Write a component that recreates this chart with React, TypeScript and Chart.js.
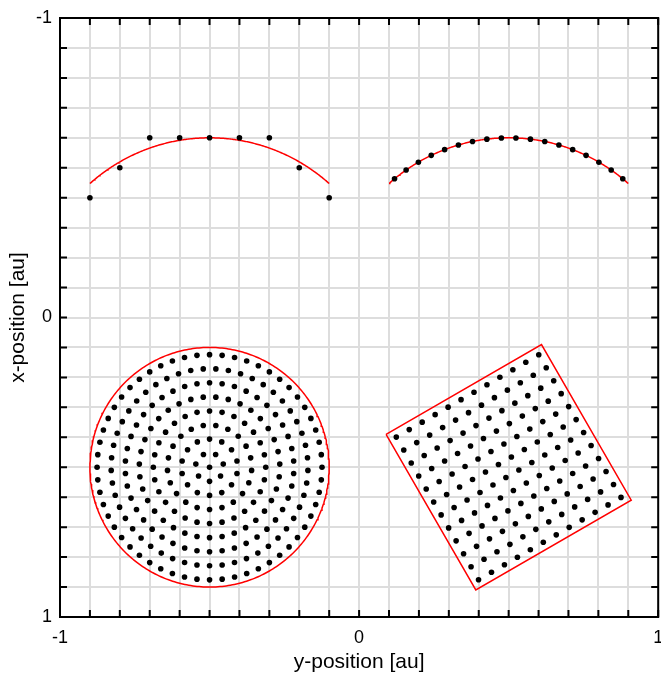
import React, { useEffect, useRef } from "react";
import { Chart, registerables } from "chart.js";

Chart.register(...registerables);

// ---- Axes ----
const AXIS_MIN = -1;
const AXIS_MAX = 1;
const GRID_STEP = 0.1;
const LABELED_TICKS = [-1, 0, 1];
const X_TITLE = "y-position [au]";
const Y_TITLE = "x-position [au]";

// ---- Top-left: arc sampled on a coarse 0.1 grid (chart x = y-position, chart y = x-position) ----
const coarseArcH = [-0.9, -0.8, -0.7, -0.6, -0.5, -0.4, -0.3, -0.2, -0.1];
const coarseArcV = [-0.4, -0.5, -0.6, -0.6, -0.6, -0.6, -0.6, -0.5, -0.4];

// ---- Arc outlines: centre (h, v), radius, horizontal half span ----
const arcCentreH = [-0.5, 0.5];
const arcCentreV = [0, 0];
const ARC_RADIUS = 0.6;
const ARC_HALF_SPAN = 0.4;
// top-right arc: evenly spaced samples along the arc
const FINE_ARC_COUNT = 18;

// ---- Bottom-left: disk with concentric rings ----
const DISK_CENTRE = [-0.5, 0.5];
const DISK_RADIUS = 0.4;
const ringRadii = [0, 0.047, 0.094, 0.141, 0.188, 0.235, 0.282, 0.329, 0.376];
const ringCounts = [1, 7, 14, 21, 28, 35, 42, 49, 56];

// ---- Bottom-right: rotated square lattice ----
const SQUARE_CENTRE = [0.5, 0.5];
const SQUARE_HALF = 0.3;
const SQUARE_ANGLE_DEG = -30;
const latticeOffsets = [-0.275, -0.225, -0.175, -0.125, -0.075, -0.025, 0.025, 0.075, 0.125, 0.175, 0.225, 0.275];

type P = { x: number; y: number };

function arcOutline(i: number, n = 240): P[] {
  const a = Math.asin(ARC_HALF_SPAN / ARC_RADIUS);
  const pts: P[] = [];
  for (let k = 0; k <= n; k++) {
    const t = -a + (2 * a * k) / n;
    pts.push({ x: arcCentreH[i] + ARC_RADIUS * Math.sin(t), y: arcCentreV[i] - ARC_RADIUS * Math.cos(t) });
  }
  return pts;
}

function fineArcPoints(): P[] {
  const a = Math.asin(ARC_HALF_SPAN / ARC_RADIUS);
  const pts: P[] = [];
  for (let k = 0; k < FINE_ARC_COUNT; k++) {
    const t = -a + ((k + 0.5) * 2 * a) / FINE_ARC_COUNT;
    pts.push({ x: arcCentreH[1] + ARC_RADIUS * Math.sin(t), y: arcCentreV[1] - ARC_RADIUS * Math.cos(t) });
  }
  return pts;
}

function diskOutline(n = 360): P[] {
  const pts: P[] = [];
  for (let k = 0; k <= n; k++) {
    const t = (2 * Math.PI * k) / n;
    pts.push({ x: DISK_CENTRE[0] + DISK_RADIUS * Math.sin(t), y: DISK_CENTRE[1] + DISK_RADIUS * Math.cos(t) });
  }
  return pts;
}

function diskPoints(): P[] {
  const pts: P[] = [];
  ringRadii.forEach((r, i) => {
    const n = ringCounts[i];
    for (let k = 0; k < n; k++) {
      const t = (2 * Math.PI * k) / n;
      pts.push({ x: DISK_CENTRE[0] + r * Math.sin(t), y: DISK_CENTRE[1] + r * Math.cos(t) });
    }
  });
  return pts;
}

function rot(u: number, v: number): P {
  const f = (SQUARE_ANGLE_DEG * Math.PI) / 180;
  return {
    x: SQUARE_CENTRE[0] + u * Math.cos(f) - v * Math.sin(f),
    y: SQUARE_CENTRE[1] + u * Math.sin(f) + v * Math.cos(f),
  };
}

function squareOutline(): P[] {
  const h = SQUARE_HALF;
  return [rot(-h, -h), rot(h, -h), rot(h, h), rot(-h, h), rot(-h, -h)];
}

function squarePoints(): P[] {
  const pts: P[] = [];
  latticeOffsets.forEach((u) => latticeOffsets.forEach((v) => pts.push(rot(u, v))));
  return pts;
}

const framePlugin = {
  id: "frameTicks",
  afterDraw(chart: any) {
    const { ctx, chartArea: a, scales } = chart;
    const len = 7;
    ctx.save();
    ctx.strokeStyle = "#000";
    ctx.lineWidth = 2;
    ctx.beginPath();
    scales.x.ticks.forEach((t: any) => {
      const px = scales.x.getPixelForValue(t.value);
      ctx.moveTo(px, a.top);
      ctx.lineTo(px, a.top + len);
      ctx.moveTo(px, a.bottom);
      ctx.lineTo(px, a.bottom - len);
    });
    scales.y.ticks.forEach((t: any) => {
      const py = scales.y.getPixelForValue(t.value);
      ctx.moveTo(a.left, py);
      ctx.lineTo(a.left + len, py);
      ctx.moveTo(a.right, py);
      ctx.lineTo(a.right - len, py);
    });
    ctx.stroke();
    ctx.strokeRect(a.left, a.top, a.right - a.left, a.bottom - a.top);
    ctx.restore();
  },
};

const FONT_FAMILY = "'Liberation Sans', Arial, Helvetica, sans-serif";

function labelCb(v: any) {
  const n = Number(v);
  return LABELED_TICKS.some((t) => Math.abs(t - n) < 1e-6) ? String(Math.round(n)) : "";
}

export default function App() {
  const ref = useRef<HTMLCanvasElement>(null);
  useEffect(() => {
    if (!ref.current) return;
    const dot = { pointRadius: 2.8, pointHoverRadius: 2.8, pointBackgroundColor: "#000", pointBorderWidth: 0, showLine: false };
    const line = { showLine: true, borderColor: "#ff0000", borderWidth: 1.5, pointRadius: 0, pointHoverRadius: 0, fill: false, tension: 0 };
    const chart = new Chart(ref.current, {
      type: "scatter",
      data: {
        datasets: [
          { label: "coarse arc", data: coarseArcH.map((h, i) => ({ x: h, y: coarseArcV[i] })), ...dot, order: 0 },
          { label: "fine arc", data: fineArcPoints(), ...dot, order: 0 },
          { label: "disk", data: diskPoints(), ...dot, order: 0 },
          { label: "square", data: squarePoints(), ...dot, order: 0 },
          { label: "arc 1", data: arcOutline(0), ...line, order: 1 },
          { label: "arc 2", data: arcOutline(1), ...line, order: 1 },
          { label: "disk outline", data: diskOutline(), ...line, order: 1 },
          { label: "square outline", data: squareOutline(), ...line, order: 1 },
        ],
      },
      options: {
        animation: false,
        responsive: false,
        events: [],
        layout: { padding: { top: 18, right: 2, left: 0, bottom: 0 } },
        plugins: { legend: { display: false }, tooltip: { enabled: false } },
        scales: {
          x: {
            type: "linear",
            min: AXIS_MIN,
            max: AXIS_MAX,
            grid: { color: "#dddddd", lineWidth: 2, drawTicks: false },
            border: { display: false },
            ticks: {
              stepSize: GRID_STEP,
              autoSkip: false,
              maxRotation: 0,
              padding: 10,
              color: "#000",
              font: { family: FONT_FAMILY, size: 18 },
              callback: labelCb,
            },
            title: { display: true, text: X_TITLE, color: "#000", font: { family: FONT_FAMILY, size: 21 }, padding: { top: 4, bottom: 2 } },
            afterFit: (s: any) => {
              s.height = 60;
              s.paddingLeft = 0;
              s.paddingRight = 0;
            },
          },
          y: {
            type: "linear",
            reverse: true,
            min: AXIS_MIN,
            max: AXIS_MAX,
            grid: { color: "#dddddd", lineWidth: 2, drawTicks: false },
            border: { display: false },
            ticks: {
              stepSize: GRID_STEP,
              autoSkip: false,
              padding: 8,
              color: "#000",
              font: { family: FONT_FAMILY, size: 18 },
              callback: labelCb,
            },
            title: { display: true, text: Y_TITLE, color: "#000", font: { family: FONT_FAMILY, size: 21 }, padding: { top: 6, bottom: 4 } },
            afterFit: (s: any) => {
              s.width = 60;
              s.paddingTop = 0;
              s.paddingBottom = 0;
            },
          },
        },
      },
      plugins: [framePlugin],
    } as any);
    return () => chart.destroy();
  }, []);
  return (
    <div style={{ position: "fixed", left: 0, top: 0, width: 661, height: 677, background: "#fff" }}>
      <canvas ref={ref} width={661} height={677} style={{ display: "block" }} />
    </div>
  );
}
